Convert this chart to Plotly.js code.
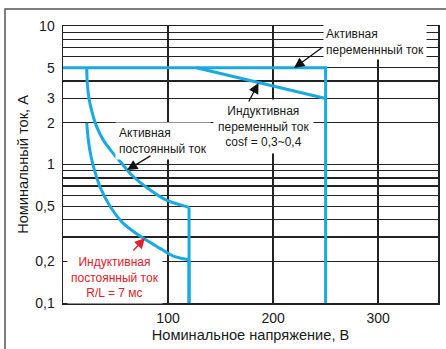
<!DOCTYPE html>
<html>
<head>
<meta charset="utf-8">
<script src="https://cdn.plot.ly/plotly-3.0.1.min.js"></script>
<style>
  html, body { margin: 0; padding: 0; background: #fff; }
  #chart { width: 446px; height: 349px; }
</style>
</head>
<body>
<div id="chart"></div>
<script>
// ---- data ----
// Active load, AC
const acActiveX = [0, 250, 250];
const acActiveY = [5, 5, 0.1];
// Inductive load, AC (cos phi = 0.3~0.4)
const acInductX = [127, 250];
const acInductY = [5, 3];
// Active load, DC
const dcActiveX = [22.6, 23.1, 25.0, 27.9, 32.1, 38.4, 46.4, 55.9, 65.4, 80.0, 99.0, 120];
const dcActiveY = [5, 3.86, 2.92, 2.35, 1.87, 1.50, 1.24, 1.02, 0.84, 0.68, 0.55, 0.49];
const dcActiveDropX = [120, 120];
const dcActiveDropY = [0.49, 0.1];
// Inductive load, DC (R/L = 7 ms)
const dcInductX = [22.6, 24.1, 26.7, 30.5, 35.2, 44.8, 57.4, 76.5, 92.4, 105, 120];
const dcInductY = [2, 1.50, 1.14, 0.88, 0.69, 0.50, 0.376, 0.293, 0.248, 0.218, 0.205];
const dcInductDropX = [120, 120];
const dcInductDropY = [0.205, 0.1];

// axis ticks
const yTickVals = [0.1,0.2,0.3,0.4,0.5,0.6,0.7,0.8,0.9,1,2,3,4,5,6,7,8,9,10];
const yTickText = ['0,1','0,2','','','0,5','','','','','1','2','3','','5','','','','','10'];
const xTickVals = [100, 200, 300];
const xTickText = ['100', '200', '300'];

const blue = '#1aa9e2';
const lw = 3;
const font = 'Liberation Sans, Arial, sans-serif';

function line(x, y, shape) {
  return { x: x, y: y, type: 'scatter', mode: 'lines',
           line: { color: blue, width: lw, shape: shape || 'linear', smoothing: 0.7 },
           hoverinfo: 'skip', showlegend: false };
}

const traces = [
  line(acActiveX, acActiveY),
  line(acInductX, acInductY),
  line(dcActiveX, dcActiveY, 'spline'),
  line(dcActiveDropX, dcActiveDropY),
  line(dcInductX, dcInductY, 'spline'),
  line(dcInductDropX, dcInductDropY)
];

// helpers: pixel -> paper for the 63..438 x 26..303 plot area
const px = v => (v - 63) / 375;
const py = v => (303 - v) / 277;

const txtFont = { family: font, size: 12, color: '#1a1a1a' };
const red = '#e4202c';

const annotations = [
  { xref: 'paper', yref: 'paper', x: px(323), y: py(42), xanchor: 'left', yanchor: 'middle',
    text: 'Активная<br>переменнный ток', align: 'left', showarrow: false,
    bgcolor: '#ffffff', borderpad: 2, font: txtFont },
  { xref: 'paper', yref: 'paper', x: px(263), y: py(126), xanchor: 'center', yanchor: 'middle',
    text: 'Индуктивная<br>переменный ток<br>cosf = 0,3~0,4', align: 'center', showarrow: false,
    bgcolor: '#ffffff', borderpad: 4, font: txtFont },
  { xref: 'paper', yref: 'paper', x: px(115), y: py(141), xanchor: 'left', yanchor: 'middle',
    text: 'Активная<br>постоянный ток', align: 'left', showarrow: false,
    bgcolor: '#ffffff', borderpad: 3, font: txtFont },
  { xref: 'paper', yref: 'paper', x: px(115), y: py(277), xanchor: 'center', yanchor: 'middle',
    text: 'Индуктивная<br>постоянный ток<br>R/L = 7 мс', align: 'center', showarrow: false,
    bgcolor: '#ffffff', borderpad: 3, font: { family: font, size: 12, color: red } },
  // arrows
  { xref: 'paper', yref: 'paper', x: px(294), y: py(68), ax: 29, ay: -21, text: '',
    showarrow: true, arrowhead: 2, arrowsize: 1.6, arrowwidth: 1.3, arrowcolor: '#111' },
  { xref: 'paper', yref: 'paper', x: px(258.5), y: py(83), ax: -10.5, ay: 20, text: '',
    showarrow: true, arrowhead: 2, arrowsize: 1.6, arrowwidth: 1.3, arrowcolor: '#111' },
  { xref: 'paper', yref: 'paper', x: px(127), y: py(170), ax: 25, ay: -15, text: '',
    showarrow: true, arrowhead: 2, arrowsize: 1.6, arrowwidth: 1.3, arrowcolor: '#111' },
  { xref: 'paper', yref: 'paper', x: px(145), y: py(238), ax: -13, ay: 14, text: '',
    showarrow: true, arrowhead: 2, arrowsize: 1.6, arrowwidth: 1.3, arrowcolor: red }
];

const layout = {
  width: 446, height: 349,
  margin: { l: 63, r: 8, t: 26, b: 46, pad: 0 },
  paper_bgcolor: '#ffffff', plot_bgcolor: '#ffffff',
  font: { family: font, color: '#1a1a1a' },
  showlegend: false,
  xaxis: {
    range: [0, 357], tickvals: xTickVals, ticktext: xTickText,
    showgrid: true, gridcolor: '#222', gridwidth: 1.3, zeroline: false,
    showline: true, linecolor: '#222', linewidth: 1.5, mirror: true,
    ticks: '', tickfont: { family: font, size: 14, color: '#1a1a1a' },
    ticklabelstandoff: 2,
    title: { text: 'Номинальное напряжение, В', font: { family: font, size: 14.6, color: '#1a1a1a' }, standoff: 4 }
  },
  yaxis: {
    type: 'log', range: [-1, 1], tickvals: yTickVals, ticktext: yTickText,
    showgrid: true, gridcolor: '#222', gridwidth: 1.3, zeroline: false,
    showline: true, linecolor: '#222', linewidth: 1.5, mirror: true,
    ticks: '', tickfont: { family: font, size: 14, color: '#1a1a1a' },
    ticklabelstandoff: 4,
    title: { text: 'Номинальный ток, А', font: { family: font, size: 14.6, color: '#1a1a1a' }, standoff: 3 }
  },
  shapes: [
    { type: 'rect', xref: 'paper', yref: 'paper', x0: px(5), x1: px(448), y0: py(352), y1: py(9),
      line: { color: '#555', width: 1.5 }, fillcolor: 'rgba(0,0,0,0)', layer: 'below' }
  ],
  annotations: annotations
};

Plotly.newPlot('chart', traces, layout, { staticPlot: true, displayModeBar: false });
</script>
</body>
</html>
